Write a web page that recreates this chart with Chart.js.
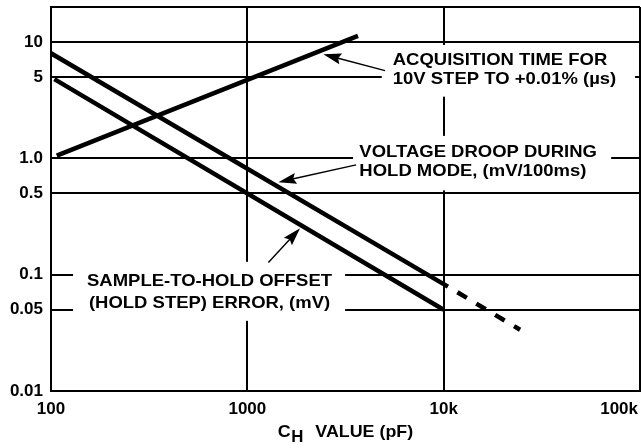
<!DOCTYPE html>
<html><head><meta charset="utf-8">
<script src="https://cdn.jsdelivr.net/npm/chart.js@4.4.1/dist/chart.umd.min.js"></script>
<style>html,body{margin:0;padding:0;background:#fff;}canvas{display:block;}</style>
</head><body>
<canvas id="c" width="641" height="448"></canvas>
<script>
// ---- tick values / labels ----
const xTickValues = [100, 1000, 10000, 100000];
const xTickLabels = ['100', '1000', '10k', '100k'];
const yTickValues = [0.01, 0.05, 0.1, 0.5, 1, 5, 10, 20];
const yTickLabels = ['0.01', '0.05', '0.1', '0.5', '1.0', '5', '10', ''];

// ---- series (C_H in pF vs value) ----
const acqX = [107, 3660];
const acqY = [1.055, 11.3];
const droopX = [100, 10000];
const droopY = [8.0, 0.083];
const droopExtX = [10000, 24500];
const droopExtY = [0.083, 0.0336];
const offsetX = [104, 10000];
const offsetY = [4.8, 0.05];

// ---- annotation text ----
const acqLabel = ['ACQUISITION TIME FOR', '10V STEP TO +0.01% (\u00B5s)'];
const droopLabel = ['VOLTAGE DROOP DURING', 'HOLD MODE, (mV/100ms)'];
const offsetLabel = ['SAMPLE-TO-HOLD OFFSET', '(HOLD STEP) ERROR, (mV)'];
const xTitleMain = 'C', xTitleSub = 'H', xTitleRest = 'VALUE (pF)';

const FAM = '"Liberation Sans", Arial, Helvetica, sans-serif';

// annotation anchors in data units (x in pF, y in axis units)
const notes = [
  {lines: acqLabel, at: [5505, 7.01], align: 'left', lh: 19.8,
   box: [4838, 94400, 9.43, 3.39], tail: [5028, 5.67], tip: [2438, 7.85]},
  {lines: droopLabel, at: [3721, 1.12], align: 'left', lh: 19,
   box: [3455, 71300, 1.56, 0.53], tail: [3581, 0.879], tip: [1439, 0.624]},
  {lines: offsetLabel, at: [642, 0.0877], align: 'center', lh: 22.5,
   box: [129.5, 3148, 0.129, 0.0401], tail: [1280, 0.127], tip: [1856, 0.251]}
];

function pts(xs, ys) { return xs.map((x, i) => ({x: x, y: ys[i]})); }

function arrow(ctx, x1, y1, x2, y2) {
  const a = Math.atan2(y2 - y1, x2 - x1);
  const L = 18, W = 5.5;
  const c = Math.cos(a), s = Math.sin(a);
  ctx.lineWidth = 1.4;
  ctx.beginPath(); ctx.moveTo(x1, y1); ctx.lineTo(x2 - c * L * 0.8, y2 - s * L * 0.8); ctx.stroke();
  ctx.beginPath();
  ctx.moveTo(x2, y2);
  ctx.lineTo(x2 - L * c + W * s, y2 - L * s - W * c);
  ctx.lineTo(x2 - 0.85 * L * c, y2 - 0.85 * L * s);
  ctx.lineTo(x2 - L * c - W * s, y2 - L * s + W * c);
  ctx.closePath(); ctx.fill();
}

function scaledText(ctx, t, x, y, sx) {
  ctx.save(); ctx.translate(x, y); ctx.scale(sx, 1); ctx.fillText(t, 0, 0); ctx.restore();
}

const notesPlugin = {
  id: 'notes',
  beforeDatasetsDraw(chart) {
    const {ctx, scales: {x, y}} = chart;
    ctx.save(); ctx.fillStyle = '#fff';
    for (const n of notes) {
      const x0 = x.getPixelForValue(n.box[0]), x1 = x.getPixelForValue(n.box[1]);
      const y0 = y.getPixelForValue(n.box[2]), y1 = y.getPixelForValue(n.box[3]);
      ctx.fillRect(x0, y0, x1 - x0, y1 - y0);
    }
    ctx.restore();
  },
  afterDatasetsDraw(chart) {
    const {ctx, chartArea: ca, scales: {x, y}} = chart;
    ctx.save();
    ctx.fillStyle = '#000'; ctx.strokeStyle = '#000';
    ctx.textBaseline = 'middle';
    ctx.font = 'bold 16.5px ' + FAM;
    for (const n of notes) {
      const px = x.getPixelForValue(n.at[0]), py = y.getPixelForValue(n.at[1]);
      ctx.textAlign = n.align;
      n.lines.forEach((t, i) => scaledText(ctx, t, px, py + i * n.lh, 1.12));
      arrow(ctx, x.getPixelForValue(n.tail[0]), y.getPixelForValue(n.tail[1]),
                 x.getPixelForValue(n.tip[0]), y.getPixelForValue(n.tip[1]));
    }
    // x tick labels
    ctx.font = 'bold 17px ' + FAM;
    ctx.textAlign = 'center';
    xTickValues.forEach((v, i) => {
      const t = xTickLabels[i];
      const w = ctx.measureText(t).width;
      let cx = x.getPixelForValue(v);
      cx = Math.min(cx, chart.width - 3 - w / 2);
      ctx.fillText(t, cx, ca.bottom + 18);
    });
    // x title with subscript
    ctx.textAlign = 'left'; ctx.textBaseline = 'alphabetic';
    const sx = 1.05;
    const fMain = 'bold 17px ' + FAM, fSub = 'bold 16px ' + FAM;
    ctx.font = fMain; const wC = ctx.measureText(xTitleMain).width * sx;
    const wV = ctx.measureText(xTitleRest).width * sx;
    ctx.font = fSub; const wH = ctx.measureText(xTitleSub).width * sx;
    const g1 = 0.5, g2 = 12;
    const total = wC + g1 + wH + g2 + wV;
    let tx = (ca.left + ca.right) / 2 - total / 2;
    const base = ca.bottom + 45.5;
    ctx.font = fMain; scaledText(ctx, xTitleMain, tx, base, sx); tx += wC + g1;
    ctx.font = fSub; scaledText(ctx, xTitleSub, tx, base + 5, sx); tx += wH + g2;
    ctx.font = fMain; scaledText(ctx, xTitleRest, tx, base, sx);
    ctx.restore();
  }
};

const lineStyle = {borderColor: '#000', backgroundColor: '#000', borderWidth: 4.5,
  pointRadius: 0, fill: false, tension: 0, borderCapStyle: 'butt'};

new Chart(document.getElementById('c'), {
  type: 'line',
  data: {
    datasets: [
      Object.assign({label: 'Acquisition time', data: pts(acqX, acqY)}, lineStyle),
      Object.assign({label: 'Voltage droop', data: pts(droopX, droopY)}, lineStyle),
      Object.assign({label: 'Voltage droop (extrapolated)', data: pts(droopExtX, droopExtY),
        borderDash: [11, 11], borderDashOffset: 6}, lineStyle),
      Object.assign({label: 'Hold step error', data: pts(offsetX, offsetY)}, lineStyle)
    ]
  },
  options: {
    responsive: false, animation: false, devicePixelRatio: 1,
    layout: {padding: {left: 0, right: 1, top: 7, bottom: 0}},
    plugins: {legend: {display: false}, tooltip: {enabled: false}},
    scales: {
      x: {
        type: 'logarithmic', min: 100, max: 100000,
        afterBuildTicks: s => { s.ticks = xTickValues.map(v => ({value: v})); },
        afterFit: s => { s.height = 57; s.paddingLeft = 0; s.paddingRight = 0; },
        grid: {color: '#000', lineWidth: 2, drawTicks: false},
        border: {color: '#000', width: 2},
        ticks: {display: false}
      },
      y: {
        type: 'logarithmic', min: 0.01, max: 20,
        afterBuildTicks: s => { s.ticks = yTickValues.map(v => ({value: v})); },
        afterFit: s => { s.width = 51; s.paddingTop = 0; s.paddingBottom = 0; },
        grid: {color: '#000', lineWidth: 2, drawTicks: false},
        border: {color: '#000', width: 2},
        ticks: {
          autoSkip: false, padding: 8, color: '#000',
          font: {family: FAM, size: 17, weight: 'bold'},
          callback: v => { const i = yTickValues.indexOf(v); return i >= 0 ? yTickLabels[i] : ''; }
        }
      }
    }
  },
  plugins: [notesPlugin]
});
</script>
</body></html>
